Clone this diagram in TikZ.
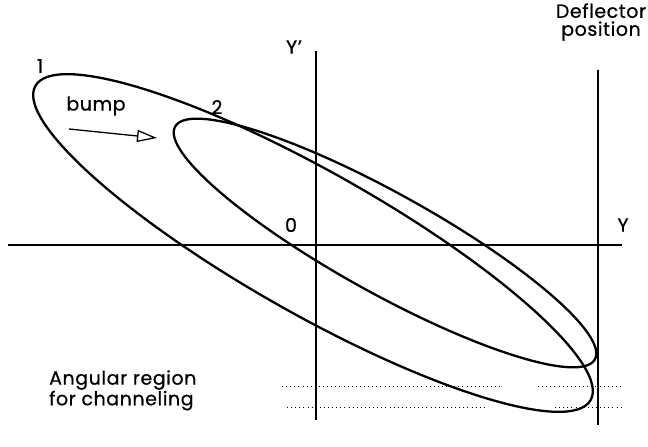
\documentclass[tikz,border=0pt]{standalone}
\usepackage{fontspec}
\setmainfont{Poppins}[FakeBold=0.6, LetterSpace=3]
\usetikzlibrary{arrows.meta}
\begin{document}
\begin{tikzpicture}[x=1pt,y=1pt,
  lbl/.style={inner sep=0pt, font=\fontsize{19}{19}\selectfont},
  curve/.style={line width=2.3pt},
  axis/.style={line width=1.6pt},
  thickaxis/.style={line width=2.4pt},
  dots/.style={line width=0.9pt, dash pattern=on 0.9pt off 3.2pt}]
\useasboundingbox (0,0) rectangle (648,447);
% axes
\coordinate (yl) at (8,202);
\coordinate (yr) at (622,202);
\coordinate (ypt) at (316,396);
\coordinate (ypb) at (316,27);
\coordinate (dt) at (598,377);
\coordinate (db) at (598,22);
\draw[axis] (yl) -- (yr);
\draw[thickaxis] (ypt) -- (ypb);
\draw[thickaxis] (dt) -- (db);
% dotted channeling region
\coordinate (d1a) at (282,61); \coordinate (d1b) at (500,61);
\coordinate (d1c) at (538,61); \coordinate (d1d) at (622,61);
\coordinate (d2a) at (287,40); \coordinate (d2b) at (485,40);
\coordinate (d2c) at (555,40); \coordinate (d2d) at (622,40);
\draw[dots] (d1a) -- (d1b) (d1c) -- (d1d);
\draw[dots] (d2a) -- (d2b) (d2c) -- (d2d);
% ellipses
\coordinate (c1) at (313,204);
\coordinate (c2) at (385,204);
\draw[curve, rotate around={-29.5:(c1)}] (c1) ellipse [x radius=319, y radius=71];
\draw[curve, rotate around={-29:(c2)}] (c2) ellipse [x radius=240, y radius=50];
% bump arrow
\coordinate (bs) at (69,318);
\coordinate (be) at (157,309);
\draw[line width=1.3pt, -{Triangle[open, length=20pt, width=12pt, line width=1.3pt]}] (bs) -- (be);
% labels
\node[lbl] (l1) at (40,381) {1};
\node[lbl] (l2) at (217,340) {2};
\node[lbl] (lbump) at (96,341) {bump};
\node[lbl] (lyp) at (294,400) {Y'};
\node[lbl] (l0) at (291,222) {0};
\node[lbl] (ly) at (623,222) {Y};
\node[lbl, align=center, font=\fontsize{19}{18}\selectfont] (ldef) at (601,425) {Deflector\\ position};
\node[lbl, align=left, anchor=north west, font=\fontsize{19}{18}\selectfont] (lang) at (49,77) {Angular region\\for channeling};
\end{tikzpicture}
\end{document}
